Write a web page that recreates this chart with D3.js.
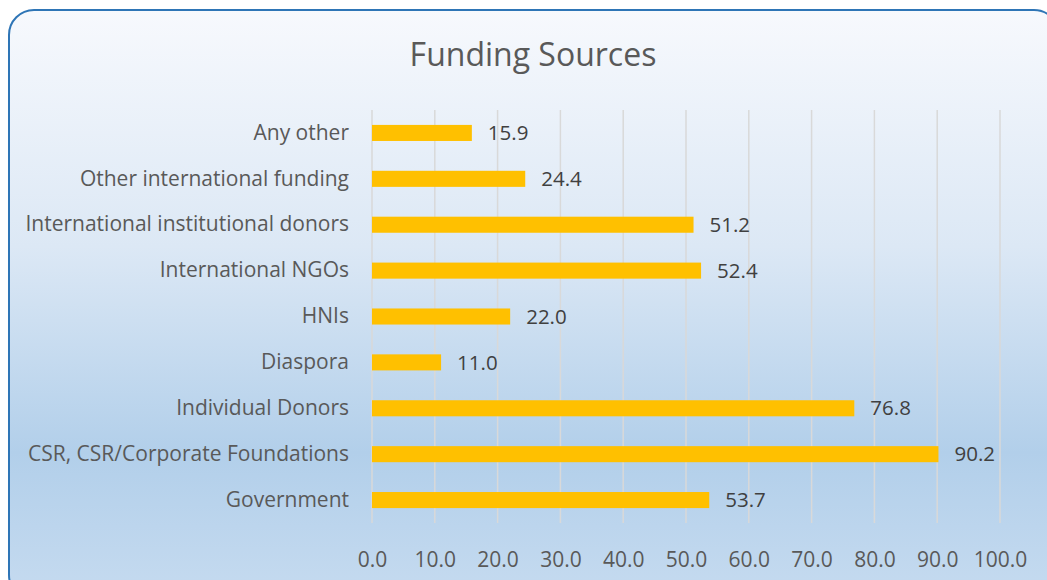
<!DOCTYPE html>
<html>
<head>
<meta charset="utf-8">
<script src="https://cdn.jsdelivr.net/npm/d3@7"></script>
<style>
  body { margin: 0; background: #ffffff; overflow: hidden; }
  text { font-family: "Open Sans", "Liberation Sans", sans-serif; }
</style>
</head>
<body>
<div id="chart"></div>
<script>
// data, top to bottom as shown
const categories = [
  "Any other",
  "Other international funding",
  "International institutional donors",
  "International NGOs",
  "HNIs",
  "Diaspora",
  "Individual Donors",
  "CSR, CSR/Corporate Foundations",
  "Government"
];
const values = [15.9, 24.4, 51.2, 52.4, 22.0, 11.0, 76.8, 90.2, 53.7];
const xTicks = [0, 10, 20, 30, 40, 50, 60, 70, 80, 90, 100];

const W = 1047, H = 580;
const plot = { left: 372, right: 1000, top: 110, bottom: 523 };

const svg = d3.select("#chart").append("svg")
    .attr("width", W)
    .attr("height", H);

// background gradient
const grad = svg.append("defs").append("linearGradient")
    .attr("id", "bg")
    .attr("x1", 0).attr("y1", 0).attr("x2", 0).attr("y2", 1);
grad.append("stop").attr("offset", "0%").attr("stop-color", "#f7f9fd");
grad.append("stop").attr("offset", "40%").attr("stop-color", "#dce8f5");
grad.append("stop").attr("offset", "75%").attr("stop-color", "#b2cfea");
grad.append("stop").attr("offset", "100%").attr("stop-color", "#c6dbf0");

svg.append("rect")
    .attr("x", 9).attr("y", 10)
    .attr("width", 1050).attr("height", 590)
    .attr("rx", 25).attr("ry", 25)
    .attr("fill", "url(#bg)")
    .attr("stroke", "#2e75b6")
    .attr("stroke-width", 2);

// scales
const x = d3.scaleLinear()
    .domain([0, 100])
    .range([plot.left, plot.right]);

const y = d3.scaleBand()
    .domain(categories)
    .range([plot.top, plot.bottom])
    .paddingInner(0.65)
    .paddingOuter(0.325);

// gridlines
svg.append("g")
    .selectAll("line")
    .data(xTicks)
    .enter()
    .append("line")
    .attr("x1", d => x(d)).attr("x2", d => x(d))
    .attr("y1", plot.top).attr("y2", plot.bottom)
    .attr("stroke", "#d9d9d9")
    .attr("stroke-width", 1.5);

// x axis
const xAxis = svg.append("g")
    .attr("transform", `translate(0, ${plot.bottom})`)
    .call(d3.axisBottom(x).tickValues(xTicks).tickFormat(d3.format(".1f")).tickSize(0).tickPadding(29));
xAxis.select(".domain").remove();
xAxis.selectAll("text")
    .attr("fill", "#595959")
    .style("font-size", "21px")
    .style("font-family", "'Open Sans', sans-serif");

// y axis
const yAxis = svg.append("g")
    .attr("transform", `translate(${plot.left}, 0)`)
    .call(d3.axisLeft(y).tickSize(0).tickPadding(23));
yAxis.select(".domain").remove();
yAxis.selectAll("text")
    .attr("fill", "#595959")
    .style("font-size", "21px")
    .style("font-family", "'Open Sans', sans-serif");

// bars
svg.append("g")
    .selectAll("rect")
    .data(values)
    .enter()
    .append("rect")
    .attr("x", x(0))
    .attr("y", (d, i) => y(categories[i]))
    .attr("width", d => x(d) - x(0))
    .attr("height", y.bandwidth())
    .attr("fill", "#ffc000");

// value labels
svg.append("g")
    .selectAll("text")
    .data(values)
    .enter()
    .append("text")
    .attr("x", d => x(d) + 16)
    .attr("y", (d, i) => y(categories[i]) + y.bandwidth() / 2)
    .attr("dy", "0.35em")
    .attr("fill", "#404040")
    .style("font-size", "20.5px")
    .text(d => d.toFixed(1));

// title
svg.append("text")
    .attr("x", 533)
    .attr("y", 66)
    .attr("text-anchor", "middle")
    .attr("fill", "#595959")
    .style("font-size", "32px")
    .text("Funding Sources");
</script>
</body>
</html>
